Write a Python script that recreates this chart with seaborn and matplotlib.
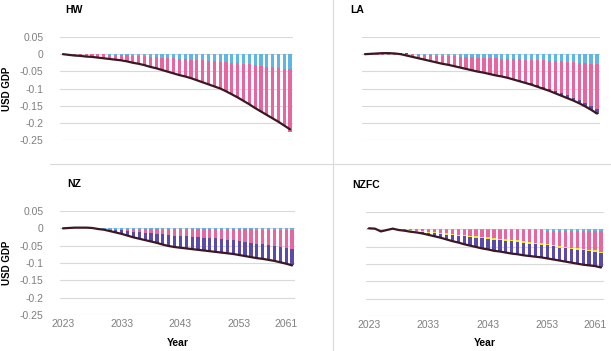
import matplotlib
matplotlib.use("Agg")
import matplotlib.pyplot as plt
import numpy as np
import seaborn as sns

sns.set_style("white")
plt.rcParams['font.family'] = ['Liberation Sans', 'DejaVu Sans']

years = list(range(2023, 2063))
x_ticks = [2023, 2033, 2043, 2053, 2061]
y_ticks = [0.05, 0, -0.05, -0.1, -0.15, -0.2, -0.25]
y_labels = ['0.05', '0', '-0.05', '-0.1', '-0.15', '-0.2', '-0.25']

# HW
hw_blue = [0, 0, 0, 0, 0, 0, 0, 0, -0.001, -0.001,
           -0.002, -0.003, -0.004, -0.005, -0.006, -0.007, -0.008, -0.010, -0.011, -0.012,
           -0.014, -0.015, -0.016, -0.017, -0.018, -0.019, -0.020, -0.022, -0.023, -0.025,
           -0.026, -0.028, -0.030, -0.032, -0.034, -0.036, -0.038, -0.040, -0.042, -0.044]
hw_pink = [0, -0.001, -0.002, -0.003, -0.005, -0.006, -0.008, -0.010, -0.012, -0.014,
           -0.016, -0.018, -0.021, -0.023, -0.026, -0.030, -0.033, -0.036, -0.040, -0.044,
           -0.047, -0.050, -0.054, -0.059, -0.064, -0.069, -0.074, -0.078, -0.085, -0.092,
           -0.100, -0.108, -0.116, -0.125, -0.133, -0.141, -0.149, -0.157, -0.167, -0.182]
hw_total = [0.000, -0.002, -0.004, -0.005, -0.007, -0.008, -0.010, -0.012, -0.014, -0.016,
            -0.018, -0.021, -0.025, -0.028, -0.032, -0.037, -0.041, -0.046, -0.051, -0.056,
            -0.061, -0.065, -0.070, -0.076, -0.082, -0.088, -0.094, -0.100, -0.108, -0.117,
            -0.126, -0.136, -0.146, -0.157, -0.167, -0.177, -0.187, -0.197, -0.208, -0.219]

# LA
la_blue = [0, 0, 0, 0, 0, 0, 0, 0, 0, -0.001,
           -0.002, -0.003, -0.004, -0.004, -0.005, -0.006, -0.007, -0.008, -0.009, -0.010,
           -0.011, -0.011, -0.012, -0.013, -0.013, -0.014, -0.015, -0.016, -0.016, -0.017,
           -0.018, -0.019, -0.020, -0.021, -0.022, -0.023, -0.025, -0.026, -0.028, -0.029]
la_pink = [0, -0.001, -0.001, -0.001, -0.001, -0.002, -0.003, -0.006, -0.009, -0.012,
           -0.014, -0.017, -0.020, -0.024, -0.026, -0.029, -0.032, -0.035, -0.038, -0.041,
           -0.043, -0.047, -0.049, -0.050, -0.053, -0.057, -0.060, -0.064, -0.068, -0.073,
           -0.077, -0.082, -0.087, -0.093, -0.098, -0.104, -0.109, -0.116, -0.123, -0.131]
la_indigo = [0, 0.002, 0.003, 0.004, 0.004, 0.004, 0.003, 0.002, 0.001, 0.001,
             0, 0, 0, 0, 0, 0, 0, 0, 0, 0,
             0, 0, -0.001, -0.002, -0.003, -0.003, -0.004, -0.004, -0.005, -0.005,
             -0.006, -0.006, -0.007, -0.007, -0.008, -0.008, -0.009, -0.010, -0.011, -0.013]
la_total = [0.000, 0.001, 0.002, 0.003, 0.003, 0.002, 0.000, -0.004, -0.008, -0.012,
            -0.016, -0.020, -0.024, -0.028, -0.031, -0.035, -0.039, -0.043, -0.047, -0.051,
            -0.054, -0.058, -0.062, -0.065, -0.069, -0.074, -0.079, -0.084, -0.089, -0.095,
            -0.101, -0.107, -0.114, -0.121, -0.128, -0.135, -0.143, -0.152, -0.162, -0.173]

# NZ
nz_blue = [0, 0, 0, 0, 0, 0, 0, -0.001, -0.001, -0.001,
           -0.001, -0.001, -0.001, -0.001, -0.001, -0.001, -0.001, -0.001, -0.002, -0.002,
           -0.002, -0.002, -0.002, -0.002, -0.002, -0.002, -0.002, -0.002, -0.003, -0.003,
           -0.003, -0.003, -0.003, -0.004, -0.004, -0.004, -0.004, -0.004, -0.004, -0.004]
nz_pink = [0, 0, 0, 0, 0, 0, -0.001, -0.002, -0.003, -0.004,
           -0.005, -0.007, -0.009, -0.010, -0.012, -0.013, -0.015, -0.016, -0.017, -0.019,
           -0.020, -0.021, -0.022, -0.024, -0.025, -0.026, -0.027, -0.029, -0.030, -0.032,
           -0.034, -0.036, -0.038, -0.040, -0.042, -0.044, -0.046, -0.049, -0.052, -0.055]
nz_indigo = [0, 0.001, 0.002, 0.002, 0.002, 0.001, -0.001, -0.001, -0.004, -0.007,
             -0.010, -0.013, -0.016, -0.019, -0.021, -0.024, -0.026, -0.030, -0.032, -0.033,
             -0.034, -0.035, -0.036, -0.036, -0.037, -0.038, -0.039, -0.039, -0.039, -0.039,
             -0.040, -0.041, -0.042, -0.042, -0.042, -0.043, -0.044, -0.045, -0.046, -0.048]
nz_total = [0.000, 0.001, 0.002, 0.002, 0.002, 0.001, -0.002, -0.004, -0.008, -0.012,
            -0.016, -0.021, -0.026, -0.030, -0.034, -0.038, -0.042, -0.047, -0.051, -0.054,
            -0.056, -0.058, -0.060, -0.062, -0.064, -0.066, -0.068, -0.070, -0.072, -0.074,
            -0.077, -0.080, -0.083, -0.086, -0.088, -0.091, -0.094, -0.098, -0.102, -0.107]

# NZFC
nzfc_blue = [0, 0, 0, 0, 0, 0, 0, 0, 0, 0,
             -0.002, -0.002, -0.002, -0.002, -0.002, -0.002, -0.002, -0.002, -0.002, -0.002,
             -0.003, -0.003, -0.003, -0.003, -0.003, -0.003, -0.003, -0.003, -0.003, -0.003,
             -0.004, -0.004, -0.004, -0.004, -0.004, -0.004, -0.004, -0.004, -0.004, -0.004]
nzfc_pink = [0, 0, 0, 0, 0, -0.001, -0.002, -0.003, -0.004, -0.005,
             -0.005, -0.007, -0.008, -0.010, -0.012, -0.014, -0.015, -0.017, -0.018, -0.020,
             -0.020, -0.023, -0.024, -0.026, -0.028, -0.029, -0.031, -0.034, -0.035, -0.037,
             -0.038, -0.041, -0.045, -0.047, -0.049, -0.051, -0.053, -0.055, -0.057, -0.060]
nzfc_yellow = [0, 0, -0.005, -0.002, 0, -0.001, -0.003, -0.003, -0.003, -0.003,
               -0.003, -0.003, -0.003, -0.003, -0.003, -0.003, -0.003, -0.003, -0.004, -0.004,
               -0.004, -0.004, -0.004, -0.004, -0.004, -0.004, -0.004, -0.004, -0.004, -0.004,
               -0.004, -0.004, -0.004, -0.004, -0.004, -0.004, -0.004, -0.004, -0.004, -0.004]
nzfc_indigo = [0.003, 0.002, -0.001, 0, 0.002, 0, 0, -0.001, -0.002, -0.004,
               -0.006, -0.008, -0.011, -0.014, -0.017, -0.019, -0.023, -0.025, -0.027, -0.029,
               -0.031, -0.032, -0.033, -0.034, -0.035, -0.036, -0.037, -0.036, -0.037, -0.037,
               -0.038, -0.038, -0.037, -0.038, -0.039, -0.040, -0.041, -0.041, -0.041, -0.042]
nzfc_total = [0.003, 0.002, -0.006, -0.002, 0.002, -0.002, -0.004, -0.007, -0.009, -0.012,
              -0.016, -0.020, -0.024, -0.029, -0.034, -0.038, -0.043, -0.047, -0.051, -0.055,
              -0.058, -0.062, -0.064, -0.067, -0.070, -0.072, -0.075, -0.077, -0.079, -0.081,
              -0.084, -0.087, -0.090, -0.093, -0.096, -0.099, -0.102, -0.104, -0.106, -0.110]

c_blue = '#5DB7E6'
c_pink = '#E8669F'
c_yellow = '#F2E421'
c_indigo = '#5A4BAA'
c_line = '#3B1822'
c_grid = '#D9D9D9'
c_tick = '#7F7F7F'

W, H = 611, 351
fig = plt.figure(figsize=(W / 100, H / 100), dpi=100)


def px_axes(x0, x1, y_top, y_bot):
    return fig.add_axes([x0 / W, 1 - y_bot / H, (x1 - x0) / W, (y_bot - y_top) / H])


def panel(ax, title, stacks, total, bottom_row, left_col, title_dx):
    pos = np.zeros(len(years))
    neg = np.zeros(len(years))
    for vals, col in stacks:
        v = np.array(vals)
        base = np.where(v >= 0, pos, neg)
        ax.bar(years, v, bottom=base, width=0.55, color=col, linewidth=0, zorder=2)
        pos += np.clip(v, 0, None)
        neg += np.clip(v, None, 0)
    sns.lineplot(x=years, y=total, color=c_line, linewidth=1.6, ax=ax, zorder=3)
    ax.set_xlim(2022.5, 2062.5)
    ax.set_ylim(-0.25, 0.05)
    ax.set_yticks(y_ticks)
    ax.grid(axis='y', color=c_grid, linewidth=0.8, zorder=0)
    ax.grid(axis='x', visible=False)
    for s in ax.spines.values():
        s.set_visible(False)
    ax.tick_params(length=0, labelsize=7.5, colors=c_tick, pad=12)
    bbox = ax.get_position()
    ax_w = bbox.width * W
    if left_col:
        ax.set_yticklabels(y_labels)
        ax.set_ylabel('USD GDP', fontsize=7, fontweight='bold', color='black')
        ax.yaxis.set_label_coords(-48 / ax_w, 0.5)
    else:
        ax.set_yticklabels([])
        ax.set_ylabel('')
    if bottom_row:
        ax.set_xticks(x_ticks)
        ax.set_xticklabels([str(t) for t in x_ticks])
        ax.tick_params(axis='x', pad=3)
        ax.set_xlabel('Year', fontsize=7.5, fontweight='bold', color='black', labelpad=6)
    else:
        ax.set_xticks([])
        ax.set_xlabel('')
    ax.text(title_dx / ax_w, 1.26, title, transform=ax.transAxes, fontsize=7.5,
            fontweight='bold', color='black', ha='left', va='center')


ax1 = px_axes(60, 293, 37, 140)
panel(ax1, 'HW', [(hw_blue, c_blue), (hw_pink, c_pink)], hw_total, False, True, 5)

ax2 = px_axes(362, 600, 37, 140)
panel(ax2, 'LA', [(la_blue, c_blue), (la_pink, c_pink), (la_indigo, c_indigo)],
      la_total, False, False, -12)

ax3 = px_axes(60, 295, 211, 315)
panel(ax3, 'NZ', [(nz_blue, c_blue), (nz_pink, c_pink), (nz_indigo, c_indigo)],
      nz_total, True, True, 7)

ax4 = px_axes(366, 604, 212, 316)
panel(ax4, 'NZFC', [(nzfc_blue, c_blue), (nzfc_pink, c_pink), (nzfc_yellow, c_yellow),
                    (nzfc_indigo, c_indigo)], nzfc_total, True, False, -14)

# panel separators
fig.add_artist(plt.Line2D([333 / W, 333 / W], [0, 1], color=c_grid, linewidth=0.8))
fig.add_artist(plt.Line2D([50 / W, 1], [1 - 164 / H, 1 - 164 / H], color=c_grid, linewidth=0.8))

fig.savefig('out.png', dpi=100)
